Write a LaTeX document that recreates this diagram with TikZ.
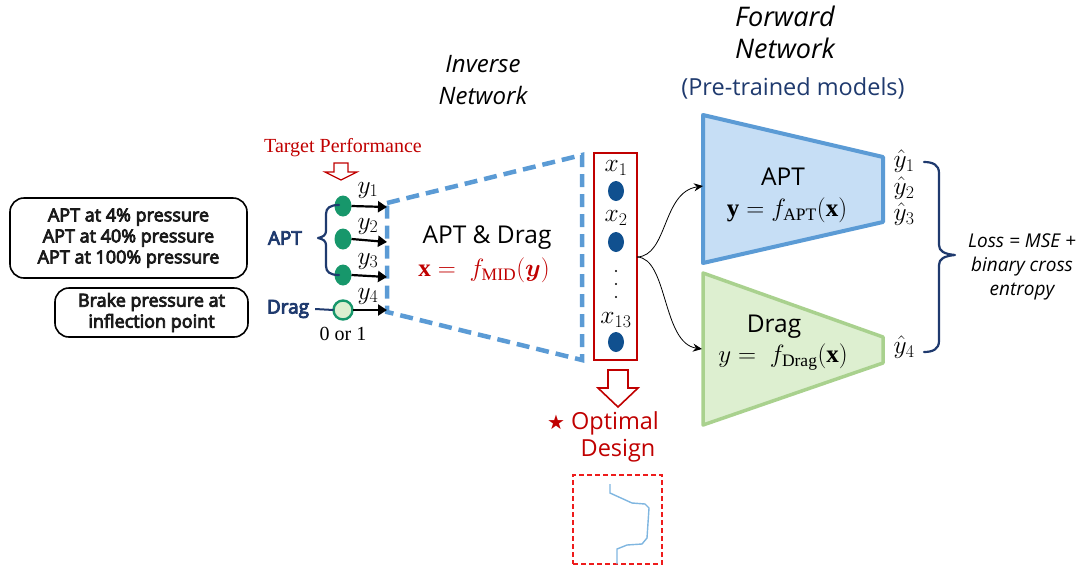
\RequirePackage{fix-cm}
\documentclass[tikz,border=0pt]{standalone}
\usepackage{amsmath}
\usepackage{fontspec}
\setmainfont{Liberation Serif}
\setsansfont{Open Sans}[AutoFakeBold=4.5]
\newfontfamily\symbolfont{DejaVu Sans}
\usetikzlibrary{arrows.meta,calc,shapes.geometric}

\definecolor{navy}{HTML}{1F3A6E}
\definecolor{lineblue}{HTML}{5B9BD5}
\definecolor{fillblue}{HTML}{C6DEF5}
\definecolor{linegreen}{HTML}{A9D18E}
\definecolor{fillgreen}{HTML}{DDEFD0}
\definecolor{darkred}{HTML}{C00000}
\definecolor{brightred}{HTML}{EE1C1C}
\definecolor{tealgreen}{HTML}{17976B}
\definecolor{dotblue}{HTML}{10508F}
\definecolor{curveblue}{HTML}{7FB6E0}
\definecolor{textgray}{HTML}{1A1A1A}

\begin{document}
\begin{tikzpicture}[x=1pt,y=-1pt,
  every node/.style={inner sep=0pt, outer sep=0pt},
  infobox/.style={draw=black, line width=1.6pt, rounded corners=14pt},
  infotext/.style={font=\sffamily\bfseries\fontsize{18}{21}\selectfont, text=textgray, align=center},
  grouplabel/.style={font=\sffamily\bfseries\fontsize{19}{20}\selectfont, text=navy},
  targetdot/.style={ellipse, fill=tealgreen, minimum width=17pt, minimum height=21pt},
  feedarrow/.style={line width=2.2pt, -{Triangle[length=9pt,width=11pt]}},
  mathlabel/.style={font=\fontsize{25.5}{27}\selectfont},
  designdot/.style={ellipse, fill=dotblue, minimum width=16pt, minimum height=20pt},
  titletext/.style={font=\sffamily\itshape\fontsize{24}{32}\selectfont, align=center},
  nettext/.style={font=\sffamily\fontsize{24.5}{26}\selectfont},
  eqtext/.style={font=\fontsize{25}{27}\selectfont},
  hollowarrow/.style={draw=darkred, line width=1.6pt, fill=white, line join=miter},
  splitarrow/.style={line width=0.8pt, -{Stealth[length=9pt,width=8pt]}},
  bracepath/.style={draw=navy, line width=2.2pt, line cap=round, line join=round},
]
\useasboundingbox (0,0) rectangle (1089,571);

% ---------- titles ----------
\node[titletext] (invtitle) at (483,80) {Inverse\\Network};
\node[titletext, font=\sffamily\itshape\fontsize{27}{32}\selectfont] (fwdtitle) at (785,32) {Forward\\Network};
\node[font=\sffamily\fontsize{23.5}{26}\selectfont, text=navy] (pretrained) at (793,88) {(Pre-trained models)};

% ---------- target performance descriptions ----------
\node[infobox, minimum width=237pt, minimum height=80pt] (aptbox) at (128.5,238) {};
\node[infotext] (apttext) at (aptbox.center) {APT at 4\% pressure\\APT at 40\% pressure\\APT at 100\% pressure};
\node[infobox, minimum width=193pt, minimum height=49pt] (dragbox) at (151.5,312.5) {};
\node[infotext] (dragtext) at (dragbox.center) {Brake pressure at\\inflection point};

\node[grouplabel] (aptlabel) at (285,238) {APT};
\node[grouplabel] (draglabel) at (288,309) {Drag};

% ---------- target performance marker ----------
\node[font=\fontsize{20}{22}\selectfont, text=darkred] (targetlabel) at (343,148) {Target Performance};
\coordinate (tgt) at (341,163);
\draw[hollowarrow, line width=1.2pt] (tgt) ++(-7,0) -- ++(14,0) -- ++(0,9) -- ++(9,0)
  -- ($(tgt)+(0,17)$) -- ++(-16,-8) -- ++(9,0) -- cycle;

% ---------- inputs y ----------
\node[targetdot] (y1) at (343,206) {};
\node[targetdot] (y2) at (343,239) {};
\node[targetdot] (y3) at (343,275) {};
\node[circle, draw=tealgreen, line width=2.4pt, fill=fillgreen, minimum size=19pt] (y4) at (343,310) {};
\node[font=\fontsize{20}{22}\selectfont] (zeroone) at (343,334) {0 or 1};

% brace gathering the three APT targets
\draw[bracepath] (339,205) .. controls (330,205) and (326,208) .. (326,214)
  -- (326,231) .. controls (326,235) and (323,237) .. (318,238)
  .. controls (323,239) and (326,241) .. (326,245)
  -- (326,266) .. controls (326,272) and (330,275) .. (339,275);
\draw[navy, line width=2pt] (draglabel.east) ++(6,0) -- (y4.west);

% ---------- inverse network ----------
\coordinate (invTL) at (387,203);
\coordinate (invTR) at (582,155);
\coordinate (invBR) at (582,360);
\coordinate (invBL) at (387,312);
\draw[lineblue, line width=4.5pt, dash pattern=on 13pt off 7pt]
  (invTL) -- (invTR) -- (invBR) -- (invBL) -- cycle;
\node[nettext] (invname) at (487,238) {APT \& Drag};
\node[eqtext, text=darkred] (inveq) at (484,270) {$\mathbf{x} =\; f_{\mathrm{MID}}(\boldsymbol{y})$};

\coordinate (in1) at (387,207);
\coordinate (in2) at (387,242);
\coordinate (in3) at (387,277);
\coordinate (in4) at (387,310);
\draw[feedarrow] (y1.east) -- (in1);
\draw[feedarrow] (y2.east) -- (in2);
\draw[feedarrow] (y3.east) -- (in3);
\draw[feedarrow] (y4.east) -- (in4);
\node[mathlabel] (ly1) at (368,190) {$y_1$};
\node[mathlabel] (ly2) at (368,226) {$y_2$};
\node[mathlabel] (ly3) at (368,261) {$y_3$};
\node[mathlabel] (ly4) at (368,296) {$y_4$};

% ---------- design variables ----------
\node[draw=darkred, line width=2.6pt, minimum width=43pt, minimum height=207pt] (xbox) at (615.5,256.5) {};
\node[designdot] (x1) at (616,191) {};
\node[designdot] (x2) at (616,242) {};
\node[designdot] (x13) at (616,342) {};
\node[mathlabel] (lx1) at (616,168) {$x_1$};
\node[mathlabel] (lx2) at (616,218) {$x_2$};
\node[mathlabel] (lx13) at (616,320) {$x_{13}$};
\foreach \dy in {271,284,297} \fill (616,\dy) circle (1.2pt);

% ---------- forward networks ----------
\coordinate (aTL) at (703,115);
\coordinate (aTR) at (883,157);
\coordinate (aBR) at (883,222);
\coordinate (aBL) at (703,263);
\draw[lineblue, fill=fillblue, line width=4pt, line join=round]
  (aTL) -- (aTR) -- (aBR) -- (aBL) -- cycle;
\node[nettext] (aptname) at (783,177) {APT};
\node[eqtext] (apteq) at (787,210) {$\mathbf{y} = f_{\mathrm{APT}}(\mathbf{x})$};

\coordinate (dTL) at (703,273);
\coordinate (dTR) at (883,337);
\coordinate (dBR) at (883,363);
\coordinate (dBL) at (703,425);
\draw[linegreen, fill=fillgreen, line width=3.5pt, line join=round]
  (dTL) -- (dTR) -- (dBR) -- (dBL) -- cycle;
\node[nettext] (dragname) at (774,327) {Drag};
\node[eqtext] (drageq) at (783,357) {$y =\; f_{\mathrm{Drag}}(\mathbf{x})$};

\coordinate (split) at (637,257);
\coordinate (aptin) at (703,186);
\coordinate (dragin) at (702,349);
\draw[splitarrow] (split) .. controls (668,256) and (662,192) .. (aptin);
\draw[splitarrow] (split) .. controls (668,258) and (662,343) .. (dragin);

% ---------- predicted outputs ----------
\node[mathlabel] (h1) at (904,161) {$\hat{y}_1$};
\node[mathlabel] (h2) at (904,188) {$\hat{y}_2$};
\node[mathlabel] (h3) at (904,214) {$\hat{y}_3$};
\node[mathlabel] (h4) at (904,347) {$\hat{y}_4$};

\draw[bracepath] (924,162) .. controls (933,162) and (939,165) .. (939,173)
  -- (939,245) .. controls (939,251) and (944,254) .. (955,255)
  .. controls (944,256) and (939,259) .. (939,265)
  -- (939,341) .. controls (939,349) and (933,352) .. (924,352);

\node[font=\sffamily\bfseries\itshape\fontsize{19}{24}\selectfont, align=center] (loss) at (1022,267)
  {Loss = MSE +\\binary cross\\entropy};

% ---------- optimal design ----------
\coordinate (opt) at (618,370);
\draw[hollowarrow] (opt) ++(-10,0) -- ++(20,0) -- ++(0,18) -- ++(10,0)
  -- ($(opt)+(0,37)$) -- ++(-20,-19) -- ++(10,0) -- cycle;
\node[font=\sffamily\fontsize{23.5}{27}\selectfont, text=darkred, align=center] (optlabel) at (603,437)
  {{\symbolfont\fontsize{20}{20}\selectfont ★} Optimal\\\hspace*{30pt}Design};

\node[draw=brightred, line width=1.8pt, dash pattern=on 5pt off 3pt, minimum width=89pt, minimum height=89pt] (shapebox) at (617.5,519.5) {};
\draw[curveblue, line width=1.4pt] (610,484) -- (610,493) -- (632,503) -- (645,504) -- (649,508)
  -- (647,538) -- (642,544) -- (627,545) -- (617,549) -- (617,564);
\end{tikzpicture}
\end{document}
